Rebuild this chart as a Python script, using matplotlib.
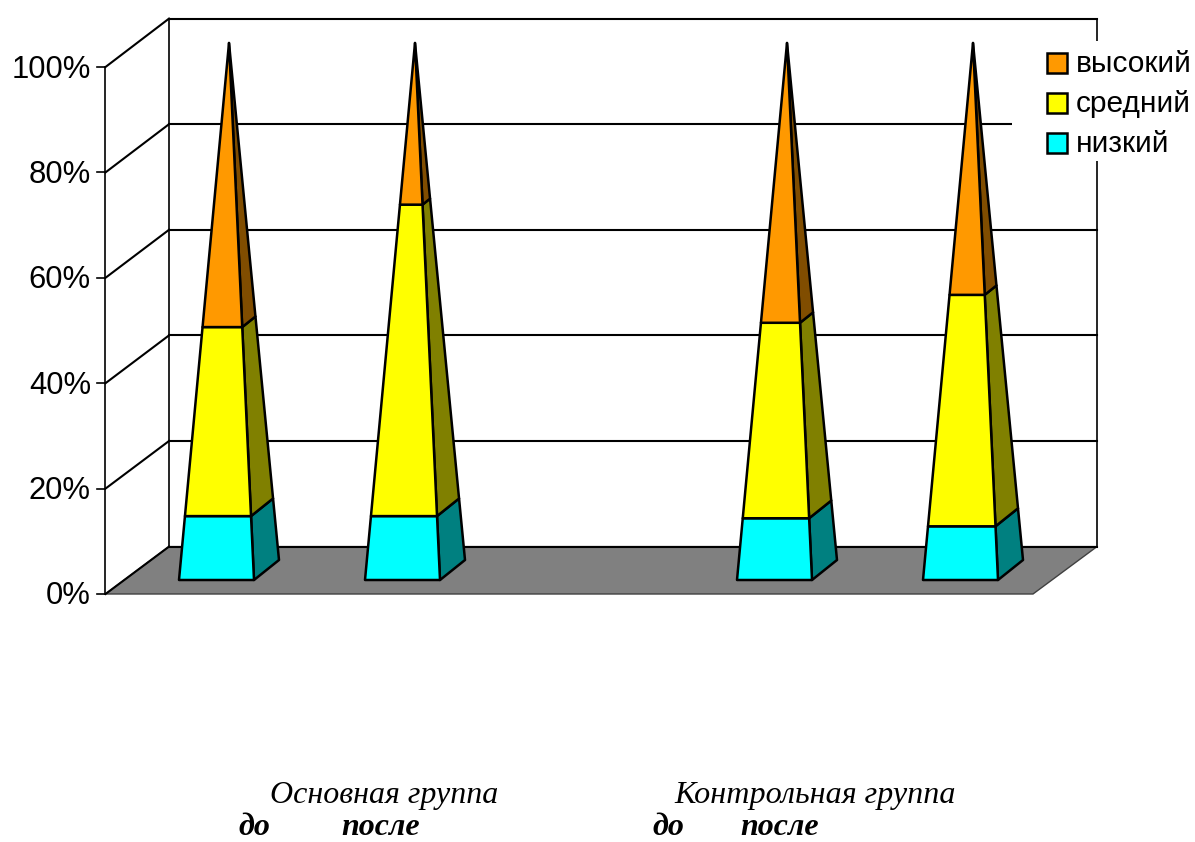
import matplotlib
matplotlib.use("Agg")
import matplotlib.pyplot as plt
from matplotlib.patches import Polygon, Rectangle

plt.rcParams['font.family'] = ['Liberation Sans', 'DejaVu Sans']

# values in percent
positions = [0, 1, 3, 4]
low = [11.9, 11.9, 11.5, 10.0]
mid = [35.2, 58.0, 36.4, 43.1]
high = [52.9, 30.1, 52.1, 46.9]
series_names = ['высокий', 'средний', 'низкий']
y_ticks = [0, 20, 40, 60, 80, 100]
y_labels = ['0%', '20%', '40%', '60%', '80%', '100%']
colors = ['#00FFFF', '#FFFF00', '#FF9900']
side_colors = ['#008080', '#808000', '#804D00']
legend_colors = ['#FF9900', '#FFFF00', '#00FFFF']

fig = plt.figure(figsize=(11.95, 8.42), dpi=100)
ax = fig.add_axes([0, 0, 1, 1])
ax.set_xlim(0, 1195)
ax.set_ylim(842, 0)
ax.axis('off')

LW = 1.5
BAR_LW = 1.8


def front_y(v):
    return 594 - 5.27 * v


def back_y(v):
    return 546.6 - 5.28 * v


def bar_x(p):
    return 229 + 186 * p


def corners(p, v):
    # front left, front right, back right of the pyramid slice at level v
    t = v / 100
    cx = bar_x(p)
    cy = 570 - 527 * t
    s = 1 - t
    return (cx - 50 * s, cy + 10 * s), (cx + 25 * s, cy + 10 * s), (cx + 50 * s, cy - 10 * s)


# floor
ax.add_patch(Polygon([(105.5, front_y(0)), (169, back_y(0)), (1097, back_y(0)), (1033, front_y(0))],
                     closed=True, fc='#808080', ec='#404040', lw=1, zorder=1))

# walls and grid
ax.plot([105.5, 105.5], [front_y(0), front_y(100)], color='k', lw=1.2, zorder=2)
ax.plot([169, 169], [back_y(0), back_y(100)], color='k', lw=1.2, zorder=2)
ax.plot([1097, 1097], [back_y(0), back_y(100)], color='k', lw=1.2, zorder=2)
for v, lab in zip(y_ticks, y_labels):
    ax.plot([97, 105.5], [front_y(v), front_y(v)], color='k', lw=1.2, zorder=2)
    ax.plot([105.5, 169], [front_y(v), back_y(v)], color='k', lw=LW, zorder=2)
    ax.plot([169, 1097], [back_y(v), back_y(v)], color='k', lw=LW, zorder=2)
    ax.text(91, front_y(v) + 2.5, lab, ha='right', va='center', fontsize=22.3, color='k')

# pyramids
for i, p in enumerate(positions):
    base = 0
    for vals, c, sc in zip([low, mid, high], colors, side_colors):
        top = base + vals[i]
        fl0, fr0, br0 = corners(p, base)
        fl1, fr1, br1 = corners(p, top)
        ax.add_patch(Polygon([fr0, br0, br1, fr1], closed=True, fc=sc, ec='k', lw=BAR_LW,
                             joinstyle='round', zorder=3))
        ax.add_patch(Polygon([fl0, fr0, fr1, fl1], closed=True, fc=c, ec='k', lw=BAR_LW,
                             joinstyle='round', zorder=4))
        base = top

# legend sits on a white box that hides part of the grid
ax.add_patch(Rectangle((1012, 41), 183, 120, fc='white', ec='none', zorder=5))
for k, (name, c) in enumerate(zip(series_names, legend_colors)):
    y = 63 + 40 * k
    ax.add_patch(Rectangle((1047, y - 10), 20, 20, fc=c, ec='k', lw=BAR_LW, zorder=6))
    ax.text(1076, y + 1, name, ha='left', va='center', fontsize=21.5, color='k', zorder=6)

# group captions
serif = ['Liberation Serif', 'DejaVu Serif']
ax.text(270, 795, 'Основная группа', family=serif, style='italic', fontsize=23, ha='left', va='center')
ax.text(674, 795, 'Контрольная группа', family=serif, style='italic', fontsize=23.1, ha='left', va='center')
for x, s in [(238, 'до'), (341, 'после'), (652, 'до'), (740, 'после')]:
    ax.text(x, 835, s, family=serif, style='italic', weight='bold', fontsize=23, ha='left', va='baseline')

fig.savefig('out.png', dpi=100)
